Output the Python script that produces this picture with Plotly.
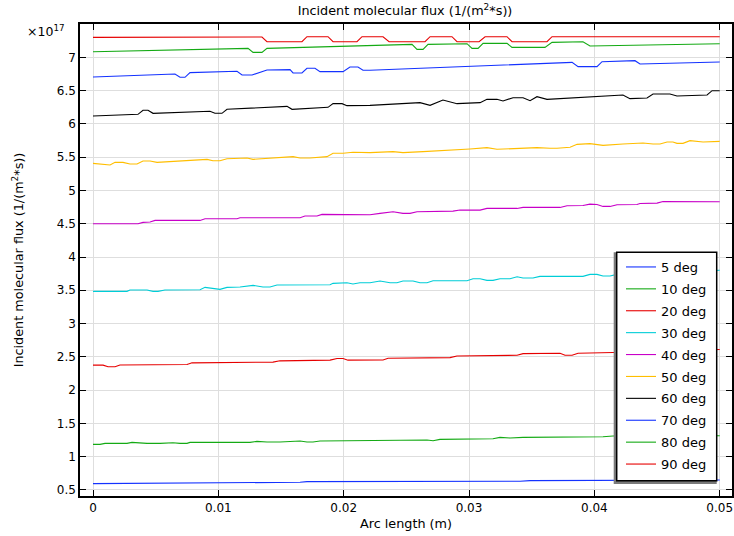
import plotly.graph_objects as go

# Values are in units of 1e17 1/(m^2*s) (axis shows the x10^17 multiplier)
x5 = [0, 0.00375, 0.00854, 0.01173, 0.01277, 0.01652, 0.01707, 0.0221, 0.02745, 0.03008, 0.03407, 0.03487, 0.03806, 0.03862, 0.05]
f5 = [0.595, 0.60, 0.61, 0.605, 0.61, 0.615, 0.625, 0.625, 0.625, 0.63, 0.63, 0.64, 0.64, 0.645, 0.65]

x10 = [0, 0.00056, 0.00096, 0.00271, 0.00311, 0.00375, 0.00431, 0.00535, 0.0059, 0.00638, 0.00694, 0.0075, 0.00774,
       0.01253, 0.01308, 0.01388, 0.01492, 0.01572, 0.01652, 0.01707, 0.01755, 0.01811, 0.0221, 0.02314, 0.0237,
       0.02473, 0.02665, 0.02713, 0.02768, 0.03191, 0.03247, 0.03327, 0.03383, 0.03431, 0.04069, 0.04149, 0.05]
f10 = [1.185, 1.185, 1.20, 1.20, 1.215, 1.205, 1.20, 1.20, 1.21, 1.21, 1.20, 1.20, 1.215,
       1.215, 1.23, 1.22, 1.22, 1.23, 1.235, 1.22, 1.22, 1.235, 1.245, 1.245, 1.24,
       1.25, 1.25, 1.24, 1.26, 1.27, 1.29, 1.28, 1.28, 1.29, 1.30, 1.31, 1.315]

x20 = [0, 0.0008, 0.0012, 0.00176, 0.00215, 0.0075, 0.0079, 0.01436, 0.01492, 0.01891, 0.01947, 0.01995, 0.02034,
       0.0221, 0.02314, 0.02354, 0.02848, 0.02904, 0.03383, 0.03431, 0.03726, 0.03766, 0.03822, 0.0387, 0.04149,
       0.04524, 0.05]
f20 = [2.375, 2.375, 2.35, 2.35, 2.378, 2.385, 2.41, 2.42, 2.44, 2.45, 2.475, 2.475, 2.45,
       2.453, 2.453, 2.478, 2.488, 2.513, 2.523, 2.548, 2.553, 2.523, 2.523, 2.553, 2.563,
       2.58, 2.61]

x30 = [0, 0.00271, 0.00295, 0.00431, 0.00479, 0.00519, 0.00574, 0.00854, 0.00894, 0.00957, 0.01013, 0.01069,
       0.01173, 0.01277, 0.01356, 0.01412, 0.01468, 0.01891, 0.01915, 0.02026, 0.02074, 0.0213, 0.0221, 0.0229,
       0.0237, 0.02425, 0.02473, 0.02553, 0.02609, 0.02665, 0.02713, 0.02984, 0.03032, 0.03088, 0.03143, 0.03191,
       0.03247, 0.03327, 0.03383, 0.03431, 0.0351, 0.03566, 0.03909, 0.03965, 0.04021, 0.04069, 0.04125, 0.04181,
       0.04444, 0.04763, 0.05]
f30 = [3.484, 3.484, 3.504, 3.504, 3.484, 3.484, 3.504, 3.509, 3.544, 3.524, 3.514, 3.544,
       3.549, 3.574, 3.549, 3.549, 3.579, 3.584, 3.604, 3.614, 3.594, 3.614, 3.614, 3.639,
       3.614, 3.614, 3.639, 3.639, 3.614, 3.614, 3.644, 3.644, 3.674, 3.674, 3.649, 3.649,
       3.674, 3.674, 3.704, 3.684, 3.684, 3.709, 3.709, 3.739, 3.739, 3.714, 3.714, 3.739,
       3.76, 3.78, 3.80]

x40 = [0, 0.00359, 0.00399, 0.00455, 0.00495, 0.00854, 0.00894, 0.01149, 0.01173, 0.01652, 0.01691, 0.01787,
       0.01827, 0.0221, 0.0229, 0.02394, 0.02473, 0.02529, 0.02585, 0.02872, 0.02928, 0.03088, 0.03143, 0.03383,
       0.03431, 0.03726, 0.03782, 0.03909, 0.03965, 0.04021, 0.04069, 0.04125, 0.04181, 0.0434, 0.04364, 0.045,
       0.04548, 0.05]
f40 = [4.50, 4.50, 4.52, 4.525, 4.55, 4.55, 4.575, 4.575, 4.59, 4.59, 4.615, 4.615,
       4.64, 4.635, 4.655, 4.68, 4.655, 4.655, 4.68, 4.69, 4.705, 4.705, 4.73, 4.73,
       4.745, 4.745, 4.77, 4.775, 4.795, 4.79, 4.76, 4.76, 4.785, 4.79, 4.805, 4.81,
       4.835, 4.83]

x50 = [0, 0.00056, 0.00136, 0.00176, 0.00239, 0.00295, 0.00351, 0.00399, 0.00455, 0.00511, 0.00614, 0.00854,
       0.0091, 0.00957, 0.01013, 0.01069, 0.01229, 0.01277, 0.01356, 0.01548, 0.01596, 0.01652, 0.01731, 0.01867,
       0.01915, 0.01995, 0.02074, 0.0221, 0.0229, 0.02394, 0.02473, 0.02553, 0.02633, 0.03008, 0.03143, 0.03223,
       0.03303, 0.03463, 0.03542, 0.03646, 0.03702, 0.03806, 0.03862, 0.03965, 0.04069, 0.04228, 0.04388, 0.04468,
       0.04524, 0.0458, 0.04627, 0.04659, 0.04707, 0.04763, 0.04819, 0.04867, 0.05]
f50 = [5.407, 5.397, 5.382, 5.422, 5.422, 5.397, 5.397, 5.442, 5.442, 5.422, 5.432, 5.457,
       5.467, 5.447, 5.447, 5.477, 5.488, 5.467, 5.477, 5.498, 5.508, 5.488, 5.488, 5.508,
       5.558, 5.558, 5.573, 5.568, 5.573, 5.583, 5.568, 5.573, 5.583, 5.623, 5.643, 5.618,
       5.623, 5.643, 5.643, 5.633, 5.633, 5.648, 5.693, 5.703, 5.678, 5.698, 5.713, 5.698,
       5.698, 5.728, 5.728, 5.708, 5.708, 5.748, 5.743, 5.728, 5.738]

x60 = [0, 0.00359, 0.00399, 0.00439, 0.00479, 0.00933, 0.00973, 0.01029, 0.01069, 0.01548, 0.01588, 0.01875,
       0.01915, 0.01987, 0.02026, 0.0221, 0.02609, 0.02689, 0.02792, 0.02904, 0.03088, 0.03143, 0.03223, 0.03271,
       0.03351, 0.03431, 0.03487, 0.03542, 0.03622, 0.04228, 0.04284, 0.0442, 0.04468, 0.04603, 0.04659, 0.04899,
       0.04939, 0.05]
f60 = [6.118, 6.144, 6.204, 6.204, 6.159, 6.189, 6.159, 6.159, 6.219, 6.264, 6.219, 6.249,
       6.304, 6.304, 6.274, 6.279, 6.319, 6.279, 6.359, 6.304, 6.319, 6.369, 6.369, 6.344,
       6.394, 6.394, 6.349, 6.409, 6.369, 6.434, 6.379, 6.389, 6.449, 6.449, 6.419, 6.434,
       6.499, 6.499]

x70 = [0, 0.00654, 0.00694, 0.00734, 0.00774, 0.01149, 0.01189, 0.01269, 0.01388, 0.01572, 0.01596, 0.01667,
       0.01707, 0.01771, 0.01811, 0.01995, 0.0205, 0.02114, 0.02154, 0.0221, 0.03822, 0.0387, 0.04021, 0.04061,
       0.04324, 0.04364, 0.05]
f70 = [6.705, 6.75, 6.70, 6.70, 6.77, 6.79, 6.735, 6.735, 6.81, 6.815, 6.765, 6.765,
       6.835, 6.835, 6.785, 6.785, 6.855, 6.855, 6.805, 6.805, 6.925, 6.86, 6.86, 6.935,
       6.95, 6.90, 6.93]

x80 = [0, 0.01237, 0.01277, 0.01348, 0.01388, 0.0221, 0.02545, 0.02585, 0.02633, 0.02673, 0.02984, 0.03024,
       0.03072, 0.03112, 0.03303, 0.03343, 0.03606, 0.03662, 0.03909, 0.03965, 0.05]
f80 = [7.085, 7.135, 7.075, 7.075, 7.135, 7.17, 7.195, 7.12, 7.12, 7.195, 7.205, 7.135,
       7.135, 7.21, 7.21, 7.15, 7.15, 7.225, 7.235, 7.17, 7.205]

x90 = [0, 0.01348, 0.01388, 0.01667, 0.01707, 0.01875, 0.01915, 0.02106, 0.02146, 0.02314, 0.02362, 0.02649,
       0.02689, 0.02864, 0.02904, 0.0308, 0.03128, 0.03303, 0.03343, 0.03622, 0.03662, 0.05]
f90 = [7.30, 7.305, 7.235, 7.235, 7.31, 7.31, 7.235, 7.235, 7.31, 7.31, 7.235, 7.235,
       7.31, 7.31, 7.235, 7.235, 7.31, 7.31, 7.235, 7.235, 7.31, 7.31]

series_names = ["5 deg", "10 deg", "20 deg", "30 deg", "40 deg", "50 deg", "60 deg", "70 deg", "80 deg", "90 deg"]
series_x = [x5, x10, x20, x30, x40, x50, x60, x70, x80, x90]
series_y = [f5, f10, f20, f30, f40, f50, f60, f70, f80, f90]
colors = ["rgb(20,50,255)", "rgb(20,170,20)", "rgb(230,0,0)", "rgb(0,205,215)", "rgb(200,0,200)",
          "rgb(255,190,0)", "rgb(0,0,0)", "rgb(20,50,255)", "rgb(20,170,20)", "rgb(230,0,0)"]

x_ticks = [0, 0.01, 0.02, 0.03, 0.04, 0.05]
x_ticklabels = ["0", "0.01", "0.02", "0.03", "0.04", "0.05"]
y_ticks = [0.5, 1, 1.5, 2, 2.5, 3, 3.5, 4, 4.5, 5, 5.5, 6, 6.5, 7]
y_ticklabels = ["0.5", "1", "1.5", "2", "2.5", "3", "3.5", "4", "4.5", "5", "5.5", "6", "6.5", "7"]

FONT = "DejaVu Sans"
OFF = 0                      # page body margin is removed below
W, H = 734, 536
L, R, T, B = 80, 2, 24, 40
PW, PH = W - L - R, H - T - B


def px_x(p):   # screen pixel -> paper x
    return (p - OFF - L) / PW


def px_y(p):   # screen pixel -> paper y
    return (H - B - (p - OFF)) / PH


fig = go.Figure()
for name, xs, ys, c in zip(series_names, series_x, series_y, colors):
    fig.add_trace(go.Scatter(x=xs, y=ys, mode="lines", name=name, legendgroup=name,
                             line=dict(color=c, width=1.1)))

axis_common = dict(showline=True, linecolor="black", linewidth=1.5, mirror="allticks",
                   ticks="inside", ticklen=6, tickwidth=1, tickcolor="black",
                   showgrid=True, gridcolor="#dedede", gridwidth=1, zeroline=False,
                   tickfont=dict(family=FONT, size=12, color="black"))

fig.update_xaxes(range=[-0.001037, 0.05098], tickvals=x_ticks, ticktext=x_ticklabels,
                 title=dict(text="Arc length (m)", font=dict(family=FONT, size=12.8, color="black"), standoff=5),
                 **axis_common)
fig.update_yaxes(range=[0.409, 7.501], tickvals=y_ticks, ticktext=y_ticklabels,
                 title=dict(text="Incident molecular flux (1/(m<sup>2</sup>*s))",
                            font=dict(family=FONT, size=12.8, color="black"), standoff=30),
                 **axis_common)

# legend frame with drop shadow
fig.add_shape(type="rect", xref="paper", yref="paper", layer="above",
              x0=px_x(613.7), x1=px_x(716.7), y0=px_y(484), y1=px_y(252.3),
              fillcolor="#7a7a7a", line=dict(width=0))
fig.add_shape(type="rect", xref="paper", yref="paper", layer="above",
              x0=px_x(616.7), x1=px_x(716.7), y0=px_y(480.7), y1=px_y(252.3),
              fillcolor="white", line=dict(color="black", width=1.5))

fig.add_annotation(text="×10<sup>17</sup>", xref="paper", yref="paper", x=px_x(25), y=px_y(31),
                   xanchor="left", yanchor="middle", showarrow=False,
                   font=dict(family=FONT, size=12.5, color="black"))

fig.update_layout(
    width=W, height=H,
    margin=dict(l=L, r=R, t=T, b=B, autoexpand=False),
    paper_bgcolor="white", plot_bgcolor="white",
    font=dict(family=FONT, size=12, color="black"),
    title=dict(text="Incident molecular flux (1/(m<sup>2</sup>*s))", x=px_x(405), xref="paper",
               xanchor="center", y=1 - (11 - OFF) / H, yref="container", yanchor="middle",
               font=dict(family=FONT, size=12.8, color="black")),
    showlegend=True,
    legend=dict(x=px_x(621), y=px_y(252), xanchor="left", yanchor="top",
                bgcolor="rgba(0,0,0,0)", borderwidth=0, tracegroupgap=2,
                font=dict(family=FONT, size=13, color="black"), itemwidth=30),
)

fig.write_html("out.html", config={"displayModeBar": False},
               post_script="document.body.style.margin='0';document.body.style.overflow='hidden';")
